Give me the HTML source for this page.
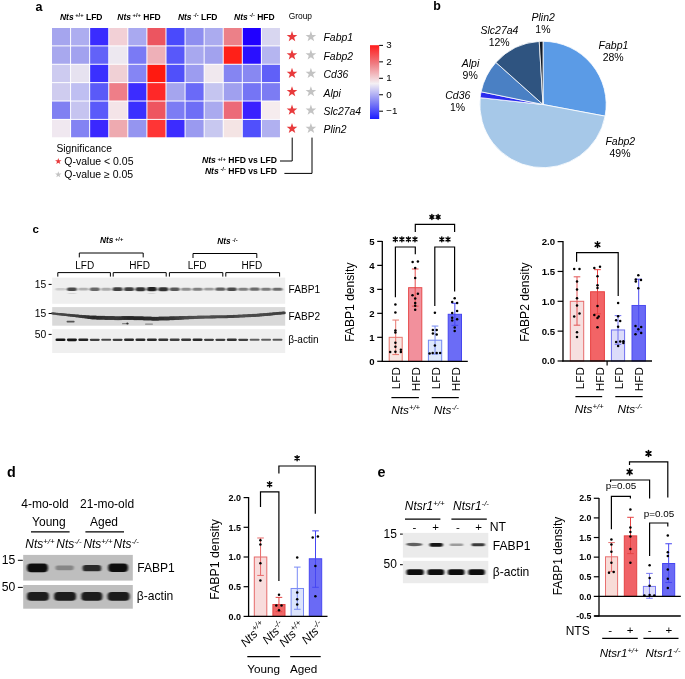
<!DOCTYPE html>
<html><head><meta charset="utf-8"><style>
html,body{margin:0;padding:0;background:#fff;width:685px;height:679px;overflow:hidden}
svg{display:block;font-family:"Liberation Sans", sans-serif;opacity:0.999}
text{font-family:"Liberation Sans", sans-serif}
</style></head><body>
<svg width="685" height="679" viewBox="0 0 685 679">
<rect x="0" y="0" width="685" height="679" fill="#fff"/>
<text x="35.50" y="10.60" font-size="12.5" font-weight="bold" font-style="normal" text-anchor="start" fill="#000" >a</text>
<rect x="52.00" y="28.00" width="18.08" height="17.38" fill="#a5a5ee" stroke="none" stroke-width="0" />
<rect x="71.08" y="28.00" width="18.08" height="17.38" fill="#adadf0" stroke="none" stroke-width="0" />
<rect x="90.16" y="28.00" width="18.08" height="17.38" fill="#3a2cff" stroke="none" stroke-width="0" />
<rect x="109.24" y="28.00" width="18.08" height="17.38" fill="#f2d0d6" stroke="none" stroke-width="0" />
<rect x="128.32" y="28.00" width="18.08" height="17.38" fill="#a9a9f0" stroke="none" stroke-width="0" />
<rect x="147.40" y="28.00" width="18.08" height="17.38" fill="#ec5560" stroke="none" stroke-width="0" />
<rect x="166.48" y="28.00" width="18.08" height="17.38" fill="#4a4afc" stroke="none" stroke-width="0" />
<rect x="185.56" y="28.00" width="18.08" height="17.38" fill="#8e8ef0" stroke="none" stroke-width="0" />
<rect x="204.64" y="28.00" width="18.08" height="17.38" fill="#ababef" stroke="none" stroke-width="0" />
<rect x="223.72" y="28.00" width="18.08" height="17.38" fill="#ec8088" stroke="none" stroke-width="0" />
<rect x="242.80" y="28.00" width="18.08" height="17.38" fill="#2000ff" stroke="none" stroke-width="0" />
<rect x="261.88" y="28.00" width="18.08" height="17.38" fill="#d8d6f0" stroke="none" stroke-width="0" />
<rect x="52.00" y="46.38" width="18.08" height="17.38" fill="#a8a8ee" stroke="none" stroke-width="0" />
<rect x="71.08" y="46.38" width="18.08" height="17.38" fill="#a2a2ef" stroke="none" stroke-width="0" />
<rect x="90.16" y="46.38" width="18.08" height="17.38" fill="#6262f8" stroke="none" stroke-width="0" />
<rect x="109.24" y="46.38" width="18.08" height="17.38" fill="#ede8f0" stroke="none" stroke-width="0" />
<rect x="128.32" y="46.38" width="18.08" height="17.38" fill="#7a7af5" stroke="none" stroke-width="0" />
<rect x="147.40" y="46.38" width="18.08" height="17.38" fill="#eeb0b8" stroke="none" stroke-width="0" />
<rect x="166.48" y="46.38" width="18.08" height="17.38" fill="#5858fa" stroke="none" stroke-width="0" />
<rect x="185.56" y="46.38" width="18.08" height="17.38" fill="#a8a8ef" stroke="none" stroke-width="0" />
<rect x="204.64" y="46.38" width="18.08" height="17.38" fill="#a2a2ee" stroke="none" stroke-width="0" />
<rect x="223.72" y="46.38" width="18.08" height="17.38" fill="#ff2018" stroke="none" stroke-width="0" />
<rect x="242.80" y="46.38" width="18.08" height="17.38" fill="#2a10ff" stroke="none" stroke-width="0" />
<rect x="261.88" y="46.38" width="18.08" height="17.38" fill="#b5b5f0" stroke="none" stroke-width="0" />
<rect x="52.00" y="64.76" width="18.08" height="17.38" fill="#cdcbf0" stroke="none" stroke-width="0" />
<rect x="71.08" y="64.76" width="18.08" height="17.38" fill="#e6e2f0" stroke="none" stroke-width="0" />
<rect x="90.16" y="64.76" width="18.08" height="17.38" fill="#3a30ff" stroke="none" stroke-width="0" />
<rect x="109.24" y="64.76" width="18.08" height="17.38" fill="#f0d0d5" stroke="none" stroke-width="0" />
<rect x="128.32" y="64.76" width="18.08" height="17.38" fill="#8585f4" stroke="none" stroke-width="0" />
<rect x="147.40" y="64.76" width="18.08" height="17.38" fill="#ff1a10" stroke="none" stroke-width="0" />
<rect x="166.48" y="64.76" width="18.08" height="17.38" fill="#5050fa" stroke="none" stroke-width="0" />
<rect x="185.56" y="64.76" width="18.08" height="17.38" fill="#9c9cf0" stroke="none" stroke-width="0" />
<rect x="204.64" y="64.76" width="18.08" height="17.38" fill="#f0e8ee" stroke="none" stroke-width="0" />
<rect x="223.72" y="64.76" width="18.08" height="17.38" fill="#8585f2" stroke="none" stroke-width="0" />
<rect x="242.80" y="64.76" width="18.08" height="17.38" fill="#8888f2" stroke="none" stroke-width="0" />
<rect x="261.88" y="64.76" width="18.08" height="17.38" fill="#6060f8" stroke="none" stroke-width="0" />
<rect x="52.00" y="83.14" width="18.08" height="17.38" fill="#cfccef" stroke="none" stroke-width="0" />
<rect x="71.08" y="83.14" width="18.08" height="17.38" fill="#bfbff2" stroke="none" stroke-width="0" />
<rect x="90.16" y="83.14" width="18.08" height="17.38" fill="#5a5af8" stroke="none" stroke-width="0" />
<rect x="109.24" y="83.14" width="18.08" height="17.38" fill="#ee7e88" stroke="none" stroke-width="0" />
<rect x="128.32" y="83.14" width="18.08" height="17.38" fill="#3c2cff" stroke="none" stroke-width="0" />
<rect x="147.40" y="83.14" width="18.08" height="17.38" fill="#ff2828" stroke="none" stroke-width="0" />
<rect x="166.48" y="83.14" width="18.08" height="17.38" fill="#a5a5ee" stroke="none" stroke-width="0" />
<rect x="185.56" y="83.14" width="18.08" height="17.38" fill="#6a6af8" stroke="none" stroke-width="0" />
<rect x="204.64" y="83.14" width="18.08" height="17.38" fill="#c5c5f0" stroke="none" stroke-width="0" />
<rect x="223.72" y="83.14" width="18.08" height="17.38" fill="#a0a0ef" stroke="none" stroke-width="0" />
<rect x="242.80" y="83.14" width="18.08" height="17.38" fill="#7575f5" stroke="none" stroke-width="0" />
<rect x="261.88" y="83.14" width="18.08" height="17.38" fill="#7c7cf3" stroke="none" stroke-width="0" />
<rect x="52.00" y="101.52" width="18.08" height="17.38" fill="#8080f2" stroke="none" stroke-width="0" />
<rect x="71.08" y="101.52" width="18.08" height="17.38" fill="#c6c4f0" stroke="none" stroke-width="0" />
<rect x="90.16" y="101.52" width="18.08" height="17.38" fill="#5a5afa" stroke="none" stroke-width="0" />
<rect x="109.24" y="101.52" width="18.08" height="17.38" fill="#f4e4e8" stroke="none" stroke-width="0" />
<rect x="128.32" y="101.52" width="18.08" height="17.38" fill="#3a30ff" stroke="none" stroke-width="0" />
<rect x="147.40" y="101.52" width="18.08" height="17.38" fill="#ee5560" stroke="none" stroke-width="0" />
<rect x="166.48" y="101.52" width="18.08" height="17.38" fill="#7c7cf4" stroke="none" stroke-width="0" />
<rect x="185.56" y="101.52" width="18.08" height="17.38" fill="#6e6ef6" stroke="none" stroke-width="0" />
<rect x="204.64" y="101.52" width="18.08" height="17.38" fill="#aaaaef" stroke="none" stroke-width="0" />
<rect x="223.72" y="101.52" width="18.08" height="17.38" fill="#ec6a78" stroke="none" stroke-width="0" />
<rect x="242.80" y="101.52" width="18.08" height="17.38" fill="#3a20ff" stroke="none" stroke-width="0" />
<rect x="261.88" y="101.52" width="18.08" height="17.38" fill="#f6ecee" stroke="none" stroke-width="0" />
<rect x="52.00" y="119.90" width="18.08" height="17.38" fill="#f0e8f0" stroke="none" stroke-width="0" />
<rect x="71.08" y="119.90" width="18.08" height="17.38" fill="#8383f3" stroke="none" stroke-width="0" />
<rect x="90.16" y="119.90" width="18.08" height="17.38" fill="#3a28ff" stroke="none" stroke-width="0" />
<rect x="109.24" y="119.90" width="18.08" height="17.38" fill="#eeaab0" stroke="none" stroke-width="0" />
<rect x="128.32" y="119.90" width="18.08" height="17.38" fill="#9595f0" stroke="none" stroke-width="0" />
<rect x="147.40" y="119.90" width="18.08" height="17.38" fill="#ff3535" stroke="none" stroke-width="0" />
<rect x="166.48" y="119.90" width="18.08" height="17.38" fill="#3c2cff" stroke="none" stroke-width="0" />
<rect x="185.56" y="119.90" width="18.08" height="17.38" fill="#9a9af0" stroke="none" stroke-width="0" />
<rect x="204.64" y="119.90" width="18.08" height="17.38" fill="#c8c8f0" stroke="none" stroke-width="0" />
<rect x="223.72" y="119.90" width="18.08" height="17.38" fill="#f4e4e4" stroke="none" stroke-width="0" />
<rect x="242.80" y="119.90" width="18.08" height="17.38" fill="#5050fc" stroke="none" stroke-width="0" />
<rect x="261.88" y="119.90" width="18.08" height="17.38" fill="#b0b0f0" stroke="none" stroke-width="0" />
<text x="81.20" y="19.7" font-size="8.5" font-weight="bold" text-anchor="middle"><tspan font-style="italic">Nts</tspan><tspan font-size="5.78" dy="-2.6"> +/+</tspan><tspan dy="2.6"> LFD</tspan></text>
<text x="139.00" y="19.7" font-size="8.5" font-weight="bold" text-anchor="middle"><tspan font-style="italic">Nts</tspan><tspan font-size="5.78" dy="-2.6"> +/+</tspan><tspan dy="2.6"> HFD</tspan></text>
<text x="197.70" y="19.7" font-size="8.5" font-weight="bold" text-anchor="middle"><tspan font-style="italic">Nts</tspan><tspan font-size="5.78" dy="-2.6"> -/-</tspan><tspan dy="2.6"> LFD</tspan></text>
<text x="254.40" y="19.7" font-size="8.5" font-weight="bold" text-anchor="middle"><tspan font-style="italic">Nts</tspan><tspan font-size="5.78" dy="-2.6"> -/-</tspan><tspan dy="2.6"> HFD</tspan></text>
<text x="288.70" y="19.30" font-size="8.4" font-weight="normal" font-style="normal" text-anchor="start" fill="#000" >Group</text>
<polygon points="292.00,31.09 293.32,34.88 297.33,34.96 294.13,37.38 295.29,41.22 292.00,38.93 288.71,41.22 289.87,37.38 286.67,34.96 290.68,34.88" fill="#e83a3c"/>
<polygon points="310.90,31.09 312.22,34.88 316.23,34.96 313.03,37.38 314.19,41.22 310.90,38.93 307.61,41.22 308.77,37.38 305.57,34.96 309.58,34.88" fill="#c3c3c3"/>
<text x="323.50" y="41.49" font-size="10.4" font-weight="normal" font-style="italic" text-anchor="start" fill="#000" >Fabp1</text>
<polygon points="292.00,49.47 293.32,53.26 297.33,53.34 294.13,55.76 295.29,59.60 292.00,57.31 288.71,59.60 289.87,55.76 286.67,53.34 290.68,53.26" fill="#e83a3c"/>
<polygon points="310.90,49.47 312.22,53.26 316.23,53.34 313.03,55.76 314.19,59.60 310.90,57.31 307.61,59.60 308.77,55.76 305.57,53.34 309.58,53.26" fill="#c3c3c3"/>
<text x="323.50" y="59.87" font-size="10.4" font-weight="normal" font-style="italic" text-anchor="start" fill="#000" >Fabp2</text>
<polygon points="292.00,67.85 293.32,71.64 297.33,71.72 294.13,74.14 295.29,77.98 292.00,75.69 288.71,77.98 289.87,74.14 286.67,71.72 290.68,71.64" fill="#e83a3c"/>
<polygon points="310.90,67.85 312.22,71.64 316.23,71.72 313.03,74.14 314.19,77.98 310.90,75.69 307.61,77.98 308.77,74.14 305.57,71.72 309.58,71.64" fill="#c3c3c3"/>
<text x="323.50" y="78.25" font-size="10.4" font-weight="normal" font-style="italic" text-anchor="start" fill="#000" >Cd36</text>
<polygon points="292.00,86.23 293.32,90.02 297.33,90.10 294.13,92.52 295.29,96.36 292.00,94.07 288.71,96.36 289.87,92.52 286.67,90.10 290.68,90.02" fill="#e83a3c"/>
<polygon points="310.90,86.23 312.22,90.02 316.23,90.10 313.03,92.52 314.19,96.36 310.90,94.07 307.61,96.36 308.77,92.52 305.57,90.10 309.58,90.02" fill="#c3c3c3"/>
<text x="323.50" y="96.63" font-size="10.4" font-weight="normal" font-style="italic" text-anchor="start" fill="#000" >Alpi</text>
<polygon points="292.00,104.61 293.32,108.40 297.33,108.48 294.13,110.90 295.29,114.74 292.00,112.45 288.71,114.74 289.87,110.90 286.67,108.48 290.68,108.40" fill="#e83a3c"/>
<polygon points="310.90,104.61 312.22,108.40 316.23,108.48 313.03,110.90 314.19,114.74 310.90,112.45 307.61,114.74 308.77,110.90 305.57,108.48 309.58,108.40" fill="#c3c3c3"/>
<text x="323.50" y="115.01" font-size="10.4" font-weight="normal" font-style="italic" text-anchor="start" fill="#000" >Slc27a4</text>
<polygon points="292.00,122.99 293.32,126.78 297.33,126.86 294.13,129.28 295.29,133.12 292.00,130.83 288.71,133.12 289.87,129.28 286.67,126.86 290.68,126.78" fill="#e83a3c"/>
<polygon points="310.90,122.99 312.22,126.78 316.23,126.86 313.03,129.28 314.19,133.12 310.90,130.83 307.61,133.12 308.77,129.28 305.57,126.86 309.58,126.78" fill="#c3c3c3"/>
<text x="323.50" y="133.39" font-size="10.4" font-weight="normal" font-style="italic" text-anchor="start" fill="#000" >Plin2</text>
<defs><linearGradient id="cb" x1="0" y1="0" x2="0" y2="1"><stop offset="0" stop-color="#ff1c1c"/><stop offset="0.25" stop-color="#ef7c82"/><stop offset="0.52" stop-color="#f4f0f4"/><stop offset="0.75" stop-color="#8c8cf4"/><stop offset="1" stop-color="#1c1cff"/></linearGradient></defs>
<rect x="370.00" y="45.20" width="9.20" height="73.80" fill="url(#cb)" stroke="none" stroke-width="0" />
<line x1="379.20" y1="45.40" x2="383.00" y2="45.40" stroke="#000" stroke-width="1.0"/>
<text x="386.20" y="48.40" font-size="9.8" font-weight="normal" font-style="normal" text-anchor="start" fill="#000" >3</text>
<line x1="379.20" y1="61.85" x2="383.00" y2="61.85" stroke="#000" stroke-width="1.0"/>
<text x="386.20" y="64.85" font-size="9.8" font-weight="normal" font-style="normal" text-anchor="start" fill="#000" >2</text>
<line x1="379.20" y1="78.30" x2="383.00" y2="78.30" stroke="#000" stroke-width="1.0"/>
<text x="386.20" y="81.30" font-size="9.8" font-weight="normal" font-style="normal" text-anchor="start" fill="#000" >1</text>
<line x1="379.20" y1="94.75" x2="383.00" y2="94.75" stroke="#000" stroke-width="1.0"/>
<text x="386.20" y="97.75" font-size="9.8" font-weight="normal" font-style="normal" text-anchor="start" fill="#000" >0</text>
<line x1="379.20" y1="111.20" x2="383.00" y2="111.20" stroke="#000" stroke-width="1.0"/>
<text x="386.20" y="114.20" font-size="9.8" font-weight="normal" font-style="normal" text-anchor="start" fill="#000" >−1</text>
<text x="56.40" y="151.60" font-size="10.3" font-weight="normal" font-style="normal" text-anchor="start" fill="#000" >Significance</text>
<polygon points="58.30,157.90 59.10,160.20 61.53,160.25 59.59,161.72 60.30,164.05 58.30,162.66 56.30,164.05 57.01,161.72 55.07,160.25 57.50,160.20" fill="#e83a3c"/>
<text x="64.30" y="164.80" font-size="10.5" font-weight="normal" font-style="normal" text-anchor="start" fill="#000" >Q-value &lt; 0.05</text>
<polygon points="58.30,171.20 59.10,173.50 61.53,173.55 59.59,175.02 60.30,177.35 58.30,175.96 56.30,177.35 57.01,175.02 55.07,173.55 57.50,173.50" fill="#c3c3c3"/>
<text x="64.30" y="178.10" font-size="10.5" font-weight="normal" font-style="normal" text-anchor="start" fill="#000" >Q-value ≥ 0.05</text>
<text x="277.00" y="163.2" font-size="8.6" font-weight="bold" text-anchor="end"><tspan font-style="italic">Nts</tspan><tspan font-size="5.85" dy="-2.4"> +/+</tspan><tspan dy="2.4"> HFD vs LFD</tspan></text>
<text x="277.00" y="173.8" font-size="8.6" font-weight="bold" text-anchor="end"><tspan font-style="italic">Nts</tspan><tspan font-size="5.85" dy="-2.4"> -/-</tspan><tspan dy="2.4"> HFD vs LFD</tspan></text>
<polyline points="280.00,161.00 292.20,161.00 292.20,137.60" fill="none" stroke="#000" stroke-width="1.0" stroke-linejoin="miter"/>
<polyline points="284.40,173.40 312.00,173.40 312.00,137.60" fill="none" stroke="#000" stroke-width="1.0" stroke-linejoin="miter"/>
<text x="433.30" y="10.40" font-size="12.4" font-weight="bold" font-style="normal" text-anchor="start" fill="#000" >b</text>
<path d="M543.00,104.50 L543.00,41.30 A63.2,63.2 0 0 1 605.12,116.13 Z" fill="#5b9be6" stroke="#fff" stroke-width="0.8" stroke-linejoin="round"/>
<path d="M543.00,104.50 L605.12,116.13 A63.2,63.2 0 0 1 480.17,97.67 Z" fill="#a6c8e8" stroke="#fff" stroke-width="0.8" stroke-linejoin="round"/>
<path d="M543.00,104.50 L480.17,97.67 A63.2,63.2 0 0 1 481.09,91.79 Z" fill="#2a2cee" stroke="#fff" stroke-width="0.8" stroke-linejoin="round"/>
<path d="M543.00,104.50 L481.09,91.79 A63.2,63.2 0 0 1 495.89,62.38 Z" fill="#4a80c4" stroke="#fff" stroke-width="0.8" stroke-linejoin="round"/>
<path d="M543.00,104.50 L495.89,62.38 A63.2,63.2 0 0 1 539.25,41.41 Z" fill="#2f5480" stroke="#fff" stroke-width="0.8" stroke-linejoin="round"/>
<path d="M543.00,104.50 L539.25,41.41 A63.2,63.2 0 0 1 543.00,41.30 Z" fill="#111a26" stroke="#fff" stroke-width="0.8" stroke-linejoin="round"/>
<text x="543.20" y="21.00" font-size="10.5" font-weight="normal" font-style="italic" text-anchor="middle" fill="#000" >Plin2</text>
<text x="542.90" y="32.90" font-size="10.5" font-weight="normal" font-style="normal" text-anchor="middle" fill="#000" >1%</text>
<text x="499.50" y="34.20" font-size="10.5" font-weight="normal" font-style="italic" text-anchor="middle" fill="#000" >Slc27a4</text>
<text x="499.20" y="46.10" font-size="10.5" font-weight="normal" font-style="normal" text-anchor="middle" fill="#000" >12%</text>
<text x="613.50" y="49.10" font-size="10.5" font-weight="normal" font-style="italic" text-anchor="middle" fill="#000" >Fabp1</text>
<text x="613.20" y="61.00" font-size="10.5" font-weight="normal" font-style="normal" text-anchor="middle" fill="#000" >28%</text>
<text x="470.50" y="66.80" font-size="10.5" font-weight="normal" font-style="italic" text-anchor="middle" fill="#000" >Alpi</text>
<text x="470.20" y="78.70" font-size="10.5" font-weight="normal" font-style="normal" text-anchor="middle" fill="#000" >9%</text>
<text x="457.80" y="99.20" font-size="10.5" font-weight="normal" font-style="italic" text-anchor="middle" fill="#000" >Cd36</text>
<text x="457.50" y="111.10" font-size="10.5" font-weight="normal" font-style="normal" text-anchor="middle" fill="#000" >1%</text>
<text x="620.30" y="145.10" font-size="10.5" font-weight="normal" font-style="italic" text-anchor="middle" fill="#000" >Fabp2</text>
<text x="620.00" y="157.00" font-size="10.5" font-weight="normal" font-style="normal" text-anchor="middle" fill="#000" >49%</text>
<text x="32.60" y="233.00" font-size="11.5" font-weight="bold" font-style="normal" text-anchor="start" fill="#000" >c</text>
<text x="111.70" y="243.4" font-size="8.3" font-weight="bold" text-anchor="middle"><tspan font-style="italic">Nts</tspan><tspan font-size="5.81" dy="-2.5"> +/+</tspan></text>
<text x="227.40" y="244.0" font-size="8.3" font-weight="bold" text-anchor="middle"><tspan font-style="italic">Nts</tspan><tspan font-size="5.81" dy="-2.5"> -/-</tspan></text>
<polyline points="79.30,257.40 79.30,253.00 143.20,253.00 143.20,257.40" fill="none" stroke="#000" stroke-width="1.0" stroke-linejoin="miter"/>
<polyline points="193.00,258.00 193.00,253.50 256.80,253.50 256.80,258.00" fill="none" stroke="#000" stroke-width="1.0" stroke-linejoin="miter"/>
<text x="84.70" y="269.30" font-size="10.0" font-weight="normal" font-style="normal" text-anchor="middle" fill="#000" >LFD</text>
<text x="139.60" y="269.30" font-size="10.0" font-weight="normal" font-style="normal" text-anchor="middle" fill="#000" >HFD</text>
<text x="197.10" y="269.30" font-size="10.0" font-weight="normal" font-style="normal" text-anchor="middle" fill="#000" >LFD</text>
<text x="251.90" y="269.30" font-size="10.0" font-weight="normal" font-style="normal" text-anchor="middle" fill="#000" >HFD</text>
<polyline points="57.80,276.60 57.80,272.60 110.40,272.60 110.40,276.60" fill="none" stroke="#000" stroke-width="1.0" stroke-linejoin="miter"/>
<polyline points="113.20,276.60 113.20,272.60 166.20,272.60 166.20,276.60" fill="none" stroke="#000" stroke-width="1.0" stroke-linejoin="miter"/>
<polyline points="169.40,276.60 169.40,272.60 222.80,272.60 222.80,276.60" fill="none" stroke="#000" stroke-width="1.0" stroke-linejoin="miter"/>
<polyline points="225.80,276.60 225.80,272.60 279.60,272.60 279.60,276.60" fill="none" stroke="#000" stroke-width="1.0" stroke-linejoin="miter"/>
<defs><filter id="bl1" x="-50%" y="-100%" width="200%" height="300%"><feGaussianBlur stdDeviation="1.1 0.9"/></filter><filter id="bl2" x="-50%" y="-100%" width="200%" height="300%"><feGaussianBlur stdDeviation="0.8 0.7"/></filter><filter id="bl3" x="-50%" y="-100%" width="200%" height="300%"><feGaussianBlur stdDeviation="0.6 0.6"/></filter></defs>
<rect x="52.20" y="277.60" width="233.00" height="26.20" fill="#efefef" stroke="none" stroke-width="0" />
<rect x="55.50" y="287.90" width="10.0" height="2.60" rx="1.30" fill="rgb(204,204,204)" filter="url(#bl2)"/>
<rect x="66.92" y="287.40" width="10.0" height="3.60" rx="1.80" fill="rgb(72,72,72)" filter="url(#bl2)"/>
<rect x="78.34" y="287.80" width="10.0" height="2.80" rx="1.40" fill="rgb(176,176,176)" filter="url(#bl2)"/>
<rect x="89.76" y="287.50" width="10.0" height="3.40" rx="1.70" fill="rgb(104,104,104)" filter="url(#bl2)"/>
<rect x="101.18" y="287.70" width="10.0" height="3.00" rx="1.50" fill="rgb(172,172,172)" filter="url(#bl2)"/>
<rect x="112.60" y="287.30" width="10.0" height="3.80" rx="1.90" fill="rgb(64,64,64)" filter="url(#bl2)"/>
<rect x="124.02" y="287.30" width="10.0" height="3.80" rx="1.90" fill="rgb(64,64,64)" filter="url(#bl2)"/>
<rect x="135.44" y="287.20" width="10.0" height="4.00" rx="2.00" fill="rgb(52,52,52)" filter="url(#bl2)"/>
<rect x="146.86" y="287.10" width="10.0" height="4.20" rx="2.10" fill="rgb(36,36,36)" filter="url(#bl2)"/>
<rect x="158.28" y="287.20" width="10.0" height="4.00" rx="2.00" fill="rgb(48,48,48)" filter="url(#bl2)"/>
<rect x="169.70" y="287.50" width="10.0" height="3.40" rx="1.70" fill="rgb(88,88,88)" filter="url(#bl2)"/>
<rect x="181.12" y="287.70" width="10.0" height="3.00" rx="1.50" fill="rgb(144,144,144)" filter="url(#bl2)"/>
<rect x="192.54" y="287.70" width="10.0" height="3.00" rx="1.50" fill="rgb(128,128,128)" filter="url(#bl2)"/>
<rect x="203.96" y="287.80" width="10.0" height="2.80" rx="1.40" fill="rgb(156,156,156)" filter="url(#bl2)"/>
<rect x="215.38" y="287.60" width="10.0" height="3.20" rx="1.60" fill="rgb(96,96,96)" filter="url(#bl2)"/>
<rect x="226.80" y="287.50" width="10.0" height="3.40" rx="1.70" fill="rgb(76,76,76)" filter="url(#bl2)"/>
<rect x="238.22" y="287.70" width="10.0" height="3.00" rx="1.50" fill="rgb(128,128,128)" filter="url(#bl2)"/>
<rect x="249.64" y="287.60" width="10.0" height="3.20" rx="1.60" fill="rgb(108,108,108)" filter="url(#bl2)"/>
<rect x="261.06" y="287.70" width="10.0" height="3.00" rx="1.50" fill="rgb(124,124,124)" filter="url(#bl2)"/>
<rect x="272.48" y="287.70" width="10.0" height="3.00" rx="1.50" fill="rgb(108,108,108)" filter="url(#bl2)"/>
<rect x="68" y="292.9" width="8" height="1.2" rx="0.6" fill="#d4d4d4" filter="url(#bl2)"/>
<rect x="148" y="292.9" width="7" height="1.2" rx="0.6" fill="#d4d4d4" filter="url(#bl2)"/>
<rect x="52.20" y="307.10" width="233.00" height="18.60" fill="#d9d9d9" stroke="none" stroke-width="0" />
<g filter="url(#bl3)">
<ellipse cx="52.60" cy="313.46" rx="1.6" ry="1.11" fill="rgb(72,72,72)"/>
<ellipse cx="53.80" cy="313.59" rx="1.6" ry="1.13" fill="rgb(72,72,72)"/>
<ellipse cx="55.00" cy="313.71" rx="1.6" ry="1.14" fill="rgb(72,72,72)"/>
<ellipse cx="56.20" cy="313.83" rx="1.6" ry="1.16" fill="rgb(72,72,72)"/>
<ellipse cx="57.40" cy="313.96" rx="1.6" ry="1.18" fill="rgb(72,72,72)"/>
<ellipse cx="58.60" cy="314.08" rx="1.6" ry="1.19" fill="rgb(72,72,72)"/>
<ellipse cx="59.80" cy="314.21" rx="1.6" ry="1.21" fill="rgb(72,72,72)"/>
<ellipse cx="61.00" cy="314.33" rx="1.6" ry="1.23" fill="rgb(71,71,71)"/>
<ellipse cx="62.20" cy="314.45" rx="1.6" ry="1.25" fill="rgb(70,70,70)"/>
<ellipse cx="63.40" cy="314.58" rx="1.6" ry="1.26" fill="rgb(69,69,69)"/>
<ellipse cx="64.60" cy="314.70" rx="1.6" ry="1.28" fill="rgb(69,69,69)"/>
<ellipse cx="65.80" cy="314.82" rx="1.6" ry="1.30" fill="rgb(68,68,68)"/>
<ellipse cx="67.00" cy="314.95" rx="1.6" ry="1.31" fill="rgb(67,67,67)"/>
<ellipse cx="68.20" cy="315.07" rx="1.6" ry="1.33" fill="rgb(66,66,66)"/>
<ellipse cx="69.40" cy="315.19" rx="1.6" ry="1.35" fill="rgb(65,65,65)"/>
<ellipse cx="70.60" cy="315.32" rx="1.6" ry="1.37" fill="rgb(64,64,64)"/>
<ellipse cx="71.80" cy="315.44" rx="1.6" ry="1.38" fill="rgb(64,64,64)"/>
<ellipse cx="73.00" cy="315.56" rx="1.6" ry="1.40" fill="rgb(63,63,63)"/>
<ellipse cx="74.20" cy="315.68" rx="1.6" ry="1.42" fill="rgb(62,62,62)"/>
<ellipse cx="75.40" cy="315.81" rx="1.6" ry="1.43" fill="rgb(61,61,61)"/>
<ellipse cx="76.60" cy="315.93" rx="1.6" ry="1.45" fill="rgb(60,60,60)"/>
<ellipse cx="77.80" cy="316.05" rx="1.6" ry="1.47" fill="rgb(59,59,59)"/>
<ellipse cx="79.00" cy="316.17" rx="1.6" ry="1.49" fill="rgb(59,59,59)"/>
<ellipse cx="80.20" cy="316.30" rx="1.6" ry="1.51" fill="rgb(58,58,58)"/>
<ellipse cx="81.40" cy="316.42" rx="1.6" ry="1.55" fill="rgb(57,57,57)"/>
<ellipse cx="82.60" cy="316.54" rx="1.6" ry="1.59" fill="rgb(56,56,56)"/>
<ellipse cx="83.80" cy="316.66" rx="1.6" ry="1.63" fill="rgb(55,55,55)"/>
<ellipse cx="85.00" cy="316.79" rx="1.6" ry="1.67" fill="rgb(53,53,53)"/>
<ellipse cx="86.20" cy="316.91" rx="1.6" ry="1.71" fill="rgb(51,51,51)"/>
<ellipse cx="87.40" cy="317.03" rx="1.6" ry="1.75" fill="rgb(50,50,50)"/>
<ellipse cx="88.60" cy="317.15" rx="1.6" ry="1.79" fill="rgb(48,48,48)"/>
<ellipse cx="89.80" cy="317.28" rx="1.6" ry="1.83" fill="rgb(46,46,46)"/>
<ellipse cx="91.00" cy="317.40" rx="1.6" ry="1.87" fill="rgb(45,45,45)"/>
<ellipse cx="92.20" cy="317.51" rx="1.6" ry="1.91" fill="rgb(43,43,43)"/>
<ellipse cx="93.40" cy="317.54" rx="1.6" ry="1.95" fill="rgb(41,41,41)"/>
<ellipse cx="94.60" cy="317.57" rx="1.6" ry="1.99" fill="rgb(40,40,40)"/>
<ellipse cx="95.80" cy="317.61" rx="1.6" ry="2.00" fill="rgb(41,41,41)"/>
<ellipse cx="97.00" cy="317.64" rx="1.6" ry="2.00" fill="rgb(42,42,42)"/>
<ellipse cx="98.20" cy="317.68" rx="1.6" ry="2.00" fill="rgb(43,43,43)"/>
<ellipse cx="99.40" cy="317.71" rx="1.6" ry="2.00" fill="rgb(44,44,44)"/>
<ellipse cx="100.60" cy="317.75" rx="1.6" ry="2.00" fill="rgb(46,46,46)"/>
<ellipse cx="101.80" cy="317.78" rx="1.6" ry="2.00" fill="rgb(47,47,47)"/>
<ellipse cx="103.00" cy="317.81" rx="1.6" ry="2.00" fill="rgb(48,48,48)"/>
<ellipse cx="104.20" cy="317.85" rx="1.6" ry="2.00" fill="rgb(49,49,49)"/>
<ellipse cx="105.40" cy="317.88" rx="1.6" ry="2.00" fill="rgb(51,51,51)"/>
<ellipse cx="106.60" cy="317.92" rx="1.6" ry="2.00" fill="rgb(52,52,52)"/>
<ellipse cx="107.80" cy="317.95" rx="1.6" ry="2.00" fill="rgb(52,52,52)"/>
<ellipse cx="109.00" cy="317.99" rx="1.6" ry="2.00" fill="rgb(52,52,52)"/>
<ellipse cx="110.20" cy="318.02" rx="1.6" ry="2.00" fill="rgb(53,53,53)"/>
<ellipse cx="111.40" cy="318.05" rx="1.6" ry="2.00" fill="rgb(53,53,53)"/>
<ellipse cx="112.60" cy="318.09" rx="1.6" ry="2.00" fill="rgb(54,54,54)"/>
<ellipse cx="113.80" cy="318.12" rx="1.6" ry="2.00" fill="rgb(54,54,54)"/>
<ellipse cx="115.00" cy="318.16" rx="1.6" ry="2.00" fill="rgb(55,55,55)"/>
<ellipse cx="116.20" cy="318.19" rx="1.6" ry="2.00" fill="rgb(55,55,55)"/>
<ellipse cx="117.40" cy="318.19" rx="1.6" ry="2.00" fill="rgb(55,55,55)"/>
<ellipse cx="118.60" cy="318.17" rx="1.6" ry="2.00" fill="rgb(54,54,54)"/>
<ellipse cx="119.80" cy="318.15" rx="1.6" ry="2.00" fill="rgb(52,52,52)"/>
<ellipse cx="121.00" cy="318.13" rx="1.6" ry="2.00" fill="rgb(51,51,51)"/>
<ellipse cx="122.20" cy="318.11" rx="1.6" ry="2.00" fill="rgb(49,49,49)"/>
<ellipse cx="123.40" cy="318.09" rx="1.6" ry="2.00" fill="rgb(47,47,47)"/>
<ellipse cx="124.60" cy="318.07" rx="1.6" ry="2.00" fill="rgb(46,46,46)"/>
<ellipse cx="125.80" cy="318.05" rx="1.6" ry="2.00" fill="rgb(44,44,44)"/>
<ellipse cx="127.00" cy="318.03" rx="1.6" ry="2.00" fill="rgb(42,42,42)"/>
<ellipse cx="128.20" cy="318.01" rx="1.6" ry="2.00" fill="rgb(41,41,41)"/>
<ellipse cx="129.40" cy="318.02" rx="1.6" ry="2.00" fill="rgb(40,40,40)"/>
<ellipse cx="130.60" cy="318.05" rx="1.6" ry="2.00" fill="rgb(40,40,40)"/>
<ellipse cx="131.80" cy="318.08" rx="1.6" ry="2.00" fill="rgb(40,40,40)"/>
<ellipse cx="133.00" cy="318.11" rx="1.6" ry="2.00" fill="rgb(40,40,40)"/>
<ellipse cx="134.20" cy="318.14" rx="1.6" ry="2.00" fill="rgb(40,40,40)"/>
<ellipse cx="135.40" cy="318.18" rx="1.6" ry="2.00" fill="rgb(40,40,40)"/>
<ellipse cx="136.60" cy="318.21" rx="1.6" ry="2.00" fill="rgb(40,40,40)"/>
<ellipse cx="137.80" cy="318.24" rx="1.6" ry="2.00" fill="rgb(40,40,40)"/>
<ellipse cx="139.00" cy="318.27" rx="1.6" ry="2.00" fill="rgb(40,40,40)"/>
<ellipse cx="140.20" cy="318.30" rx="1.6" ry="2.00" fill="rgb(40,40,40)"/>
<ellipse cx="141.40" cy="318.34" rx="1.6" ry="2.00" fill="rgb(40,40,40)"/>
<ellipse cx="142.60" cy="318.37" rx="1.6" ry="2.00" fill="rgb(40,40,40)"/>
<ellipse cx="143.80" cy="318.40" rx="1.6" ry="2.00" fill="rgb(41,41,41)"/>
<ellipse cx="145.00" cy="318.43" rx="1.6" ry="2.00" fill="rgb(41,41,41)"/>
<ellipse cx="146.20" cy="318.46" rx="1.6" ry="2.00" fill="rgb(42,42,42)"/>
<ellipse cx="147.40" cy="318.50" rx="1.6" ry="2.00" fill="rgb(42,42,42)"/>
<ellipse cx="148.60" cy="318.53" rx="1.6" ry="2.00" fill="rgb(42,42,42)"/>
<ellipse cx="149.80" cy="318.56" rx="1.6" ry="2.00" fill="rgb(43,43,43)"/>
<ellipse cx="151.00" cy="318.59" rx="1.6" ry="2.00" fill="rgb(43,43,43)"/>
<ellipse cx="152.20" cy="318.63" rx="1.6" ry="2.00" fill="rgb(44,44,44)"/>
<ellipse cx="153.40" cy="318.66" rx="1.6" ry="2.00" fill="rgb(44,44,44)"/>
<ellipse cx="154.60" cy="318.69" rx="1.6" ry="2.00" fill="rgb(44,44,44)"/>
<ellipse cx="155.80" cy="318.68" rx="1.6" ry="2.00" fill="rgb(45,45,45)"/>
<ellipse cx="157.00" cy="318.66" rx="1.6" ry="2.00" fill="rgb(45,45,45)"/>
<ellipse cx="158.20" cy="318.63" rx="1.6" ry="2.00" fill="rgb(46,46,46)"/>
<ellipse cx="159.40" cy="318.61" rx="1.6" ry="2.00" fill="rgb(46,46,46)"/>
<ellipse cx="160.60" cy="318.58" rx="1.6" ry="2.00" fill="rgb(47,47,47)"/>
<ellipse cx="161.80" cy="318.55" rx="1.6" ry="2.00" fill="rgb(47,47,47)"/>
<ellipse cx="163.00" cy="318.53" rx="1.6" ry="2.00" fill="rgb(47,47,47)"/>
<ellipse cx="164.20" cy="318.50" rx="1.6" ry="2.00" fill="rgb(48,48,48)"/>
<ellipse cx="165.40" cy="318.48" rx="1.6" ry="2.00" fill="rgb(49,49,49)"/>
<ellipse cx="166.60" cy="318.45" rx="1.6" ry="2.00" fill="rgb(50,50,50)"/>
<ellipse cx="167.80" cy="318.43" rx="1.6" ry="2.00" fill="rgb(51,51,51)"/>
<ellipse cx="169.00" cy="318.40" rx="1.6" ry="2.00" fill="rgb(52,52,52)"/>
<ellipse cx="170.20" cy="318.35" rx="1.6" ry="2.00" fill="rgb(52,52,52)"/>
<ellipse cx="171.40" cy="318.30" rx="1.6" ry="1.98" fill="rgb(53,53,53)"/>
<ellipse cx="172.60" cy="318.26" rx="1.6" ry="1.97" fill="rgb(54,54,54)"/>
<ellipse cx="173.80" cy="318.21" rx="1.6" ry="1.95" fill="rgb(55,55,55)"/>
<ellipse cx="175.00" cy="318.16" rx="1.6" ry="1.93" fill="rgb(56,56,56)"/>
<ellipse cx="176.20" cy="318.11" rx="1.6" ry="1.92" fill="rgb(58,58,58)"/>
<ellipse cx="177.40" cy="318.06" rx="1.6" ry="1.90" fill="rgb(59,59,59)"/>
<ellipse cx="178.60" cy="318.02" rx="1.6" ry="1.89" fill="rgb(61,61,61)"/>
<ellipse cx="179.80" cy="317.97" rx="1.6" ry="1.87" fill="rgb(63,63,63)"/>
<ellipse cx="181.00" cy="317.92" rx="1.6" ry="1.85" fill="rgb(64,64,64)"/>
<ellipse cx="182.20" cy="317.87" rx="1.6" ry="1.84" fill="rgb(66,66,66)"/>
<ellipse cx="183.40" cy="317.82" rx="1.6" ry="1.82" fill="rgb(68,68,68)"/>
<ellipse cx="184.60" cy="317.78" rx="1.6" ry="1.81" fill="rgb(69,69,69)"/>
<ellipse cx="185.80" cy="317.73" rx="1.6" ry="1.79" fill="rgb(71,71,71)"/>
<ellipse cx="187.00" cy="317.68" rx="1.6" ry="1.77" fill="rgb(72,72,72)"/>
<ellipse cx="188.20" cy="317.63" rx="1.6" ry="1.76" fill="rgb(73,73,73)"/>
<ellipse cx="189.40" cy="317.58" rx="1.6" ry="1.74" fill="rgb(74,74,74)"/>
<ellipse cx="190.60" cy="317.54" rx="1.6" ry="1.73" fill="rgb(75,75,75)"/>
<ellipse cx="191.80" cy="317.49" rx="1.6" ry="1.71" fill="rgb(75,75,75)"/>
<ellipse cx="193.00" cy="317.44" rx="1.6" ry="1.69" fill="rgb(76,76,76)"/>
<ellipse cx="194.20" cy="317.39" rx="1.6" ry="1.68" fill="rgb(77,77,77)"/>
<ellipse cx="195.40" cy="317.34" rx="1.6" ry="1.66" fill="rgb(78,78,78)"/>
<ellipse cx="196.60" cy="317.30" rx="1.6" ry="1.65" fill="rgb(79,79,79)"/>
<ellipse cx="197.80" cy="317.25" rx="1.6" ry="1.63" fill="rgb(80,80,80)"/>
<ellipse cx="199.00" cy="317.20" rx="1.6" ry="1.61" fill="rgb(80,80,80)"/>
<ellipse cx="200.20" cy="317.15" rx="1.6" ry="1.60" fill="rgb(80,80,80)"/>
<ellipse cx="201.40" cy="317.10" rx="1.6" ry="1.60" fill="rgb(80,80,80)"/>
<ellipse cx="202.60" cy="317.08" rx="1.6" ry="1.59" fill="rgb(80,80,80)"/>
<ellipse cx="203.80" cy="317.06" rx="1.6" ry="1.59" fill="rgb(80,80,80)"/>
<ellipse cx="205.00" cy="317.04" rx="1.6" ry="1.58" fill="rgb(80,80,80)"/>
<ellipse cx="206.20" cy="317.01" rx="1.6" ry="1.58" fill="rgb(80,80,80)"/>
<ellipse cx="207.40" cy="316.99" rx="1.6" ry="1.58" fill="rgb(80,80,80)"/>
<ellipse cx="208.60" cy="316.97" rx="1.6" ry="1.57" fill="rgb(80,80,80)"/>
<ellipse cx="209.80" cy="316.95" rx="1.6" ry="1.57" fill="rgb(79,79,79)"/>
<ellipse cx="211.00" cy="316.93" rx="1.6" ry="1.56" fill="rgb(78,78,78)"/>
<ellipse cx="212.20" cy="316.90" rx="1.6" ry="1.56" fill="rgb(77,77,77)"/>
<ellipse cx="213.40" cy="316.88" rx="1.6" ry="1.56" fill="rgb(76,76,76)"/>
<ellipse cx="214.60" cy="316.86" rx="1.6" ry="1.55" fill="rgb(76,76,76)"/>
<ellipse cx="215.80" cy="316.84" rx="1.6" ry="1.55" fill="rgb(75,75,75)"/>
<ellipse cx="217.00" cy="316.82" rx="1.6" ry="1.54" fill="rgb(74,74,74)"/>
<ellipse cx="218.20" cy="316.80" rx="1.6" ry="1.54" fill="rgb(73,73,73)"/>
<ellipse cx="219.40" cy="316.77" rx="1.6" ry="1.54" fill="rgb(72,72,72)"/>
<ellipse cx="220.60" cy="316.75" rx="1.6" ry="1.53" fill="rgb(71,71,71)"/>
<ellipse cx="221.80" cy="316.73" rx="1.6" ry="1.53" fill="rgb(71,71,71)"/>
<ellipse cx="223.00" cy="316.71" rx="1.6" ry="1.52" fill="rgb(70,70,70)"/>
<ellipse cx="224.20" cy="316.69" rx="1.6" ry="1.52" fill="rgb(69,69,69)"/>
<ellipse cx="225.40" cy="316.66" rx="1.6" ry="1.52" fill="rgb(68,68,68)"/>
<ellipse cx="226.60" cy="316.64" rx="1.6" ry="1.51" fill="rgb(67,67,67)"/>
<ellipse cx="227.80" cy="316.62" rx="1.6" ry="1.51" fill="rgb(66,66,66)"/>
<ellipse cx="229.00" cy="316.60" rx="1.6" ry="1.50" fill="rgb(65,65,65)"/>
<ellipse cx="230.20" cy="316.54" rx="1.6" ry="1.50" fill="rgb(65,65,65)"/>
<ellipse cx="231.40" cy="316.48" rx="1.6" ry="1.50" fill="rgb(64,64,64)"/>
<ellipse cx="232.60" cy="316.42" rx="1.6" ry="1.51" fill="rgb(65,65,65)"/>
<ellipse cx="233.80" cy="316.37" rx="1.6" ry="1.51" fill="rgb(66,66,66)"/>
<ellipse cx="235.00" cy="316.31" rx="1.6" ry="1.52" fill="rgb(68,68,68)"/>
<ellipse cx="236.20" cy="316.25" rx="1.6" ry="1.52" fill="rgb(70,70,70)"/>
<ellipse cx="237.40" cy="316.20" rx="1.6" ry="1.52" fill="rgb(71,71,71)"/>
<ellipse cx="238.60" cy="316.14" rx="1.6" ry="1.53" fill="rgb(73,73,73)"/>
<ellipse cx="239.80" cy="316.08" rx="1.6" ry="1.53" fill="rgb(75,75,75)"/>
<ellipse cx="241.00" cy="316.02" rx="1.6" ry="1.54" fill="rgb(76,76,76)"/>
<ellipse cx="242.20" cy="315.97" rx="1.6" ry="1.54" fill="rgb(78,78,78)"/>
<ellipse cx="243.40" cy="315.91" rx="1.6" ry="1.54" fill="rgb(79,79,79)"/>
<ellipse cx="244.60" cy="315.85" rx="1.6" ry="1.55" fill="rgb(79,79,79)"/>
<ellipse cx="245.80" cy="315.80" rx="1.6" ry="1.55" fill="rgb(78,78,78)"/>
<ellipse cx="247.00" cy="315.74" rx="1.6" ry="1.56" fill="rgb(77,77,77)"/>
<ellipse cx="248.20" cy="315.68" rx="1.6" ry="1.56" fill="rgb(76,76,76)"/>
<ellipse cx="249.40" cy="315.62" rx="1.6" ry="1.56" fill="rgb(75,75,75)"/>
<ellipse cx="250.60" cy="315.57" rx="1.6" ry="1.57" fill="rgb(74,74,74)"/>
<ellipse cx="251.80" cy="315.51" rx="1.6" ry="1.57" fill="rgb(73,73,73)"/>
<ellipse cx="253.00" cy="315.45" rx="1.6" ry="1.58" fill="rgb(73,73,73)"/>
<ellipse cx="254.20" cy="315.40" rx="1.6" ry="1.58" fill="rgb(72,72,72)"/>
<ellipse cx="255.40" cy="315.34" rx="1.6" ry="1.58" fill="rgb(72,72,72)"/>
<ellipse cx="256.60" cy="315.27" rx="1.6" ry="1.59" fill="rgb(72,72,72)"/>
<ellipse cx="257.80" cy="315.16" rx="1.6" ry="1.59" fill="rgb(72,72,72)"/>
<ellipse cx="259.00" cy="315.06" rx="1.6" ry="1.60" fill="rgb(72,72,72)"/>
<ellipse cx="260.20" cy="314.96" rx="1.6" ry="1.60" fill="rgb(72,72,72)"/>
<ellipse cx="261.40" cy="314.85" rx="1.6" ry="1.59" fill="rgb(72,72,72)"/>
<ellipse cx="262.60" cy="314.75" rx="1.6" ry="1.58" fill="rgb(72,72,72)"/>
<ellipse cx="263.80" cy="314.65" rx="1.6" ry="1.57" fill="rgb(72,72,72)"/>
<ellipse cx="265.00" cy="314.54" rx="1.6" ry="1.56" fill="rgb(72,72,72)"/>
<ellipse cx="266.20" cy="314.44" rx="1.6" ry="1.55" fill="rgb(71,71,71)"/>
<ellipse cx="267.40" cy="314.34" rx="1.6" ry="1.54" fill="rgb(71,71,71)"/>
<ellipse cx="268.60" cy="314.23" rx="1.6" ry="1.53" fill="rgb(70,70,70)"/>
<ellipse cx="269.80" cy="314.13" rx="1.6" ry="1.52" fill="rgb(69,69,69)"/>
<ellipse cx="271.00" cy="314.03" rx="1.6" ry="1.51" fill="rgb(68,68,68)"/>
<ellipse cx="272.20" cy="313.93" rx="1.6" ry="1.50" fill="rgb(67,67,67)"/>
<ellipse cx="273.40" cy="313.82" rx="1.6" ry="1.49" fill="rgb(66,66,66)"/>
<ellipse cx="274.60" cy="313.72" rx="1.6" ry="1.48" fill="rgb(66,66,66)"/>
<ellipse cx="275.80" cy="313.62" rx="1.6" ry="1.47" fill="rgb(65,65,65)"/>
<ellipse cx="277.00" cy="313.51" rx="1.6" ry="1.46" fill="rgb(64,64,64)"/>
<ellipse cx="278.20" cy="313.41" rx="1.6" ry="1.45" fill="rgb(64,64,64)"/>
<ellipse cx="279.40" cy="313.31" rx="1.6" ry="1.44" fill="rgb(64,64,64)"/>
<ellipse cx="280.60" cy="313.20" rx="1.6" ry="1.44" fill="rgb(64,64,64)"/>
<ellipse cx="281.80" cy="313.10" rx="1.6" ry="1.43" fill="rgb(64,64,64)"/>
<ellipse cx="283.00" cy="313.01" rx="1.6" ry="1.42" fill="rgb(64,64,64)"/>
<ellipse cx="284.20" cy="312.93" rx="1.6" ry="1.41" fill="rgb(64,64,64)"/>
</g>
<rect x="66.6" y="320.8" width="8" height="1.6" rx="0.7" fill="#555" filter="url(#bl3)"/>
<rect x="122" y="322.9" width="7" height="1.4" rx="0.6" fill="#888" filter="url(#bl3)"/>
<circle cx="127.3" cy="323.6" r="1.0" fill="#333" filter="url(#bl3)"/>
<rect x="145" y="323.4" width="8" height="1.3" rx="0.6" fill="#8a8a8a" filter="url(#bl3)"/>
<rect x="52.20" y="329.20" width="233.00" height="23.80" fill="#efefef" stroke="none" stroke-width="0" />
<rect x="55.50" y="338.50" width="10.0" height="2.60" rx="1.30" fill="rgb(24,24,24)" filter="url(#bl3)"/>
<rect x="66.92" y="338.40" width="10.0" height="2.80" rx="1.40" fill="rgb(20,20,20)" filter="url(#bl3)"/>
<rect x="78.34" y="338.50" width="10.0" height="2.60" rx="1.30" fill="rgb(32,32,32)" filter="url(#bl3)"/>
<rect x="89.76" y="338.70" width="10.0" height="2.20" rx="1.10" fill="rgb(64,64,64)" filter="url(#bl3)"/>
<rect x="101.18" y="338.80" width="10.0" height="2.00" rx="1.00" fill="rgb(72,72,72)" filter="url(#bl3)"/>
<rect x="112.60" y="338.70" width="10.0" height="2.20" rx="1.10" fill="rgb(64,64,64)" filter="url(#bl3)"/>
<rect x="124.02" y="338.50" width="10.0" height="2.60" rx="1.30" fill="rgb(44,44,44)" filter="url(#bl3)"/>
<rect x="135.44" y="338.50" width="10.0" height="2.60" rx="1.30" fill="rgb(44,44,44)" filter="url(#bl3)"/>
<rect x="146.86" y="338.50" width="10.0" height="2.60" rx="1.30" fill="rgb(44,44,44)" filter="url(#bl3)"/>
<rect x="158.28" y="338.60" width="10.0" height="2.40" rx="1.20" fill="rgb(52,52,52)" filter="url(#bl3)"/>
<rect x="169.70" y="338.60" width="10.0" height="2.40" rx="1.20" fill="rgb(64,64,64)" filter="url(#bl3)"/>
<rect x="181.12" y="338.60" width="10.0" height="2.40" rx="1.20" fill="rgb(56,56,56)" filter="url(#bl3)"/>
<rect x="192.54" y="338.50" width="10.0" height="2.60" rx="1.30" fill="rgb(44,44,44)" filter="url(#bl3)"/>
<rect x="203.96" y="338.70" width="10.0" height="2.20" rx="1.10" fill="rgb(64,64,64)" filter="url(#bl3)"/>
<rect x="215.38" y="338.70" width="10.0" height="2.20" rx="1.10" fill="rgb(64,64,64)" filter="url(#bl3)"/>
<rect x="226.80" y="338.50" width="10.0" height="2.60" rx="1.30" fill="rgb(48,48,48)" filter="url(#bl3)"/>
<rect x="238.22" y="338.70" width="10.0" height="2.20" rx="1.10" fill="rgb(64,64,64)" filter="url(#bl3)"/>
<rect x="249.64" y="338.80" width="10.0" height="2.00" rx="1.00" fill="rgb(96,96,96)" filter="url(#bl3)"/>
<rect x="261.06" y="338.80" width="10.0" height="2.00" rx="1.00" fill="rgb(96,96,96)" filter="url(#bl3)"/>
<rect x="272.48" y="338.80" width="10.0" height="2.00" rx="1.00" fill="rgb(88,88,88)" filter="url(#bl3)"/>
<text x="46.30" y="287.59" font-size="10.3" font-weight="normal" font-style="normal" text-anchor="end" fill="#000" >15</text>
<line x1="48.60" y1="284.40" x2="51.60" y2="284.40" stroke="#000" stroke-width="1.0"/>
<text x="46.30" y="316.69" font-size="10.3" font-weight="normal" font-style="normal" text-anchor="end" fill="#000" >15</text>
<line x1="48.60" y1="313.50" x2="51.60" y2="313.50" stroke="#000" stroke-width="1.0"/>
<text x="46.30" y="337.59" font-size="10.3" font-weight="normal" font-style="normal" text-anchor="end" fill="#000" >50</text>
<line x1="48.60" y1="334.40" x2="51.60" y2="334.40" stroke="#000" stroke-width="1.0"/>
<text x="288.60" y="292.60" font-size="10.1" font-weight="normal" font-style="normal" text-anchor="start" fill="#000" >FABP1</text>
<text x="288.60" y="319.70" font-size="10.1" font-weight="normal" font-style="normal" text-anchor="start" fill="#000" >FABP2</text>
<text x="288.20" y="343.40" font-size="10.1" font-weight="normal" font-style="normal" text-anchor="start" fill="#000" >β-actin</text>
<text x="0.00" y="0.00" font-size="1" font-weight="normal" font-style="normal" text-anchor="start" fill="#000" ></text>
<rect x="389.20" y="337.32" width="13.00" height="23.98" fill="#f8e6e2" stroke="#e8776e" stroke-width="1.0" />
<line x1="395.70" y1="320.05" x2="395.70" y2="354.59" stroke="#e8776e" stroke-width="1.0"/>
<line x1="392.40" y1="320.05" x2="399.00" y2="320.05" stroke="#e8776e" stroke-width="1.0"/>
<line x1="392.40" y1="354.59" x2="399.00" y2="354.59" stroke="#e8776e" stroke-width="1.0"/>
<circle cx="395.40" cy="304.40" r="1.25" fill="#000"/>
<circle cx="395.40" cy="312.40" r="1.25" fill="#000"/>
<circle cx="395.40" cy="330.40" r="1.25" fill="#000"/>
<circle cx="395.40" cy="332.60" r="1.25" fill="#000"/>
<circle cx="395.40" cy="342.70" r="1.25" fill="#000"/>
<circle cx="395.40" cy="346.70" r="1.25" fill="#000"/>
<circle cx="390.20" cy="352.00" r="1.25" fill="#000"/>
<circle cx="395.40" cy="351.70" r="1.25" fill="#000"/>
<circle cx="400.90" cy="349.80" r="1.25" fill="#000"/>
<circle cx="400.90" cy="351.90" r="1.25" fill="#000"/>
<rect x="408.60" y="287.68" width="13.20" height="73.62" fill="#f2909c" stroke="#e64c4c" stroke-width="1.0" />
<line x1="415.20" y1="268.98" x2="415.20" y2="306.15" stroke="#e64c4c" stroke-width="1.0"/>
<line x1="411.90" y1="268.98" x2="418.50" y2="268.98" stroke="#e64c4c" stroke-width="1.0"/>
<line x1="411.90" y1="306.15" x2="418.50" y2="306.15" stroke="#e64c4c" stroke-width="1.0"/>
<circle cx="412.60" cy="261.90" r="1.25" fill="#000"/>
<circle cx="417.90" cy="261.40" r="1.25" fill="#000"/>
<circle cx="415.20" cy="268.10" r="1.25" fill="#000"/>
<circle cx="415.20" cy="278.00" r="1.25" fill="#000"/>
<circle cx="412.50" cy="295.20" r="1.25" fill="#000"/>
<circle cx="417.90" cy="293.80" r="1.25" fill="#000"/>
<circle cx="415.20" cy="298.40" r="1.25" fill="#000"/>
<circle cx="415.20" cy="302.90" r="1.25" fill="#000"/>
<circle cx="415.20" cy="305.70" r="1.25" fill="#000"/>
<circle cx="415.20" cy="309.70" r="1.25" fill="#000"/>
<rect x="428.40" y="340.20" width="13.30" height="21.10" fill="#dde8fc" stroke="#7288f2" stroke-width="1.0" />
<line x1="435.05" y1="326.05" x2="435.05" y2="354.11" stroke="#7288f2" stroke-width="1.0"/>
<line x1="431.75" y1="326.05" x2="438.35" y2="326.05" stroke="#7288f2" stroke-width="1.0"/>
<line x1="431.75" y1="354.11" x2="438.35" y2="354.11" stroke="#7288f2" stroke-width="1.0"/>
<circle cx="434.90" cy="312.80" r="1.25" fill="#000"/>
<circle cx="432.90" cy="330.10" r="1.25" fill="#000"/>
<circle cx="436.70" cy="330.10" r="1.25" fill="#000"/>
<circle cx="432.90" cy="333.40" r="1.25" fill="#000"/>
<circle cx="436.70" cy="334.40" r="1.25" fill="#000"/>
<circle cx="434.90" cy="345.50" r="1.25" fill="#000"/>
<circle cx="429.60" cy="353.50" r="1.25" fill="#000"/>
<circle cx="432.70" cy="352.90" r="1.25" fill="#000"/>
<circle cx="436.70" cy="352.90" r="1.25" fill="#000"/>
<circle cx="440.10" cy="352.90" r="1.25" fill="#000"/>
<rect x="448.20" y="314.30" width="13.30" height="47.00" fill="#6b6cf6" stroke="#4646f0" stroke-width="1.0" />
<line x1="454.85" y1="303.27" x2="454.85" y2="325.33" stroke="#4646f0" stroke-width="1.0"/>
<line x1="451.55" y1="303.27" x2="458.15" y2="303.27" stroke="#4646f0" stroke-width="1.0"/>
<line x1="451.55" y1="325.33" x2="458.15" y2="325.33" stroke="#4646f0" stroke-width="1.0"/>
<circle cx="454.70" cy="298.20" r="1.25" fill="#000"/>
<circle cx="452.20" cy="301.90" r="1.25" fill="#000"/>
<circle cx="457.10" cy="302.90" r="1.25" fill="#000"/>
<circle cx="457.10" cy="310.90" r="1.25" fill="#000"/>
<circle cx="452.20" cy="313.10" r="1.25" fill="#000"/>
<circle cx="452.20" cy="317.70" r="1.25" fill="#000"/>
<circle cx="452.20" cy="320.50" r="1.25" fill="#000"/>
<circle cx="457.10" cy="319.30" r="1.25" fill="#000"/>
<circle cx="454.70" cy="327.60" r="1.25" fill="#000"/>
<circle cx="454.70" cy="331.00" r="1.25" fill="#000"/>
<line x1="382.30" y1="241.00" x2="382.30" y2="361.90" stroke="#000" stroke-width="1.3"/>
<line x1="381.70" y1="361.30" x2="467.80" y2="361.30" stroke="#000" stroke-width="1.3"/>
<line x1="377.20" y1="361.30" x2="382.30" y2="361.30" stroke="#000" stroke-width="1.2"/>
<text x="374.60" y="364.70" font-size="9.6" font-weight="bold" font-style="normal" text-anchor="end" fill="#000" >0</text>
<line x1="377.20" y1="337.32" x2="382.30" y2="337.32" stroke="#000" stroke-width="1.2"/>
<text x="374.60" y="340.72" font-size="9.6" font-weight="bold" font-style="normal" text-anchor="end" fill="#000" >1</text>
<line x1="377.20" y1="313.34" x2="382.30" y2="313.34" stroke="#000" stroke-width="1.2"/>
<text x="374.60" y="316.74" font-size="9.6" font-weight="bold" font-style="normal" text-anchor="end" fill="#000" >2</text>
<line x1="377.20" y1="289.36" x2="382.30" y2="289.36" stroke="#000" stroke-width="1.2"/>
<text x="374.60" y="292.76" font-size="9.6" font-weight="bold" font-style="normal" text-anchor="end" fill="#000" >3</text>
<line x1="377.20" y1="265.38" x2="382.30" y2="265.38" stroke="#000" stroke-width="1.2"/>
<text x="374.60" y="268.78" font-size="9.6" font-weight="bold" font-style="normal" text-anchor="end" fill="#000" >4</text>
<line x1="377.20" y1="241.40" x2="382.30" y2="241.40" stroke="#000" stroke-width="1.2"/>
<text x="374.60" y="244.80" font-size="9.6" font-weight="bold" font-style="normal" text-anchor="end" fill="#000" >5</text>
<text transform="translate(353.6,302.2) rotate(-90)" font-size="12.1" text-anchor="middle">FABP1 density</text>
<polyline points="395.40,297.30 395.40,247.00 415.30,247.00 415.30,254.20" fill="none" stroke="#000" stroke-width="1.2" stroke-linejoin="miter"/>
<polyline points="434.80,306.00 434.80,247.00 454.60,247.00 454.60,291.40" fill="none" stroke="#000" stroke-width="1.2" stroke-linejoin="miter"/>
<polyline points="415.30,232.00 415.30,224.40 454.60,224.40 454.60,232.00" fill="none" stroke="#000" stroke-width="1.2" stroke-linejoin="miter"/>
<path d="M395.32,236.85L395.32,241.75M393.34,237.86L397.31,240.74M393.34,240.74L397.31,237.86" stroke="#000" stroke-width="1.4" stroke-linecap="round" fill="none"/>
<path d="M401.88,236.85L401.88,241.75M399.89,237.86L403.86,240.74M399.89,240.74L403.86,237.86" stroke="#000" stroke-width="1.4" stroke-linecap="round" fill="none"/>
<path d="M408.43,236.85L408.43,241.75M406.44,237.86L410.41,240.74M406.44,240.74L410.41,237.86" stroke="#000" stroke-width="1.4" stroke-linecap="round" fill="none"/>
<path d="M414.97,236.85L414.97,241.75M412.99,237.86L416.96,240.74M412.99,240.74L416.96,237.86" stroke="#000" stroke-width="1.4" stroke-linecap="round" fill="none"/>
<path d="M441.80,236.95L441.80,241.85M439.82,237.96L443.78,240.84M439.82,240.84L443.78,237.96" stroke="#000" stroke-width="1.4" stroke-linecap="round" fill="none"/>
<path d="M448.00,236.95L448.00,241.85M446.02,237.96L449.98,240.84M446.02,240.84L449.98,237.96" stroke="#000" stroke-width="1.4" stroke-linecap="round" fill="none"/>
<path d="M431.90,214.55L431.90,219.45M429.92,215.56L433.88,218.44M429.92,218.44L433.88,215.56" stroke="#000" stroke-width="1.4" stroke-linecap="round" fill="none"/>
<path d="M438.10,214.55L438.10,219.45M436.12,215.56L440.08,218.44M436.12,218.44L440.08,215.56" stroke="#000" stroke-width="1.4" stroke-linecap="round" fill="none"/>
<text transform="translate(400.20,367.10) rotate(-90)" font-size="11.7" text-anchor="end">LFD</text>
<text transform="translate(419.70,367.10) rotate(-90)" font-size="11.7" text-anchor="end">HFD</text>
<text transform="translate(439.90,367.10) rotate(-90)" font-size="11.7" text-anchor="end">LFD</text>
<text transform="translate(459.50,367.10) rotate(-90)" font-size="11.7" text-anchor="end">HFD</text>
<line x1="391.40" y1="397.60" x2="418.90" y2="397.60" stroke="#000" stroke-width="1.2"/>
<line x1="431.70" y1="397.60" x2="458.80" y2="397.60" stroke="#000" stroke-width="1.2"/>
<text x="391.20" y="413.60" font-size="11.8" font-style="italic" text-anchor="start">Nts<tspan font-size="7.79" dy="-4.01">+/+</tspan></text>
<text x="433.80" y="413.60" font-size="11.8" font-style="italic" text-anchor="start">Nts<tspan font-size="7.79" dy="-4.01">-/-</tspan></text>
<rect x="570.30" y="301.30" width="13.40" height="59.70" fill="#f6e0e0" stroke="#e66a6a" stroke-width="1.0" />
<line x1="577.00" y1="276.82" x2="577.00" y2="325.18" stroke="#e25454" stroke-width="1.0"/>
<line x1="573.70" y1="276.82" x2="580.30" y2="276.82" stroke="#e25454" stroke-width="1.0"/>
<line x1="573.70" y1="325.18" x2="580.30" y2="325.18" stroke="#e25454" stroke-width="1.0"/>
<circle cx="574.20" cy="269.10" r="1.25" fill="#000"/>
<circle cx="579.50" cy="269.10" r="1.25" fill="#000"/>
<circle cx="577.00" cy="281.40" r="1.25" fill="#000"/>
<circle cx="577.00" cy="289.60" r="1.25" fill="#000"/>
<circle cx="577.00" cy="298.20" r="1.25" fill="#000"/>
<circle cx="577.00" cy="305.50" r="1.25" fill="#000"/>
<circle cx="574.20" cy="316.40" r="1.25" fill="#000"/>
<circle cx="579.50" cy="313.50" r="1.25" fill="#000"/>
<circle cx="577.00" cy="332.30" r="1.25" fill="#000"/>
<circle cx="577.00" cy="336.90" r="1.25" fill="#000"/>
<rect x="590.60" y="291.75" width="13.80" height="69.25" fill="#f26466" stroke="#e84242" stroke-width="1.0" />
<line x1="597.50" y1="269.66" x2="597.50" y2="313.84" stroke="#e84242" stroke-width="1.0"/>
<line x1="594.20" y1="269.66" x2="600.80" y2="269.66" stroke="#e84242" stroke-width="1.0"/>
<line x1="594.20" y1="313.84" x2="600.80" y2="313.84" stroke="#e84242" stroke-width="1.0"/>
<circle cx="594.30" cy="268.00" r="1.25" fill="#000"/>
<circle cx="600.00" cy="266.80" r="1.25" fill="#000"/>
<circle cx="597.50" cy="276.20" r="1.25" fill="#000"/>
<circle cx="597.50" cy="285.20" r="1.25" fill="#000"/>
<circle cx="597.50" cy="287.90" r="1.25" fill="#000"/>
<circle cx="597.50" cy="305.90" r="1.25" fill="#000"/>
<circle cx="594.30" cy="315.10" r="1.25" fill="#000"/>
<circle cx="598.70" cy="316.40" r="1.25" fill="#000"/>
<circle cx="597.50" cy="318.00" r="1.25" fill="#000"/>
<circle cx="597.50" cy="327.30" r="1.25" fill="#000"/>
<rect x="611.40" y="329.96" width="13.20" height="31.04" fill="#dcdcfa" stroke="#6e6ef0" stroke-width="1.0" />
<line x1="618.00" y1="315.63" x2="618.00" y2="344.28" stroke="#6e6ef0" stroke-width="1.0"/>
<line x1="614.70" y1="315.63" x2="621.30" y2="315.63" stroke="#6e6ef0" stroke-width="1.0"/>
<line x1="614.70" y1="344.28" x2="621.30" y2="344.28" stroke="#6e6ef0" stroke-width="1.0"/>
<circle cx="618.10" cy="303.00" r="1.25" fill="#000"/>
<circle cx="618.10" cy="316.20" r="1.25" fill="#000"/>
<circle cx="616.10" cy="320.30" r="1.25" fill="#000"/>
<circle cx="620.20" cy="321.10" r="1.25" fill="#000"/>
<circle cx="618.10" cy="326.80" r="1.25" fill="#000"/>
<circle cx="616.10" cy="342.00" r="1.25" fill="#000"/>
<circle cx="620.20" cy="341.60" r="1.25" fill="#000"/>
<circle cx="623.40" cy="341.20" r="1.25" fill="#000"/>
<circle cx="623.40" cy="342.90" r="1.25" fill="#000"/>
<circle cx="618.10" cy="345.90" r="1.25" fill="#000"/>
<rect x="632.00" y="305.48" width="13.40" height="55.52" fill="#6a6af6" stroke="#4a4af0" stroke-width="1.0" />
<line x1="638.70" y1="279.21" x2="638.70" y2="331.75" stroke="#4a4af0" stroke-width="1.0"/>
<line x1="635.40" y1="279.21" x2="642.00" y2="279.21" stroke="#4a4af0" stroke-width="1.0"/>
<line x1="635.40" y1="331.75" x2="642.00" y2="331.75" stroke="#4a4af0" stroke-width="1.0"/>
<circle cx="638.30" cy="275.20" r="1.25" fill="#000"/>
<circle cx="635.80" cy="279.40" r="1.25" fill="#000"/>
<circle cx="641.00" cy="280.00" r="1.25" fill="#000"/>
<circle cx="635.80" cy="281.60" r="1.25" fill="#000"/>
<circle cx="638.30" cy="288.20" r="1.25" fill="#000"/>
<circle cx="635.50" cy="326.00" r="1.25" fill="#000"/>
<circle cx="641.20" cy="327.00" r="1.25" fill="#000"/>
<circle cx="638.30" cy="329.30" r="1.25" fill="#000"/>
<circle cx="635.50" cy="334.20" r="1.25" fill="#000"/>
<circle cx="641.20" cy="333.10" r="1.25" fill="#000"/>
<line x1="563.00" y1="241.00" x2="563.00" y2="361.60" stroke="#000" stroke-width="1.3"/>
<line x1="562.40" y1="361.00" x2="652.00" y2="361.00" stroke="#000" stroke-width="1.3"/>
<line x1="607.10" y1="361.00" x2="607.10" y2="365.50" stroke="#000" stroke-width="1.2"/>
<line x1="557.60" y1="361.00" x2="563.00" y2="361.00" stroke="#000" stroke-width="1.2"/>
<text x="555.00" y="364.40" font-size="9.6" font-weight="bold" font-style="normal" text-anchor="end" fill="#000" >0.0</text>
<line x1="557.60" y1="331.15" x2="563.00" y2="331.15" stroke="#000" stroke-width="1.2"/>
<text x="555.00" y="334.55" font-size="9.6" font-weight="bold" font-style="normal" text-anchor="end" fill="#000" >0.5</text>
<line x1="557.60" y1="301.30" x2="563.00" y2="301.30" stroke="#000" stroke-width="1.2"/>
<text x="555.00" y="304.70" font-size="9.6" font-weight="bold" font-style="normal" text-anchor="end" fill="#000" >1.0</text>
<line x1="557.60" y1="271.45" x2="563.00" y2="271.45" stroke="#000" stroke-width="1.2"/>
<text x="555.00" y="274.85" font-size="9.6" font-weight="bold" font-style="normal" text-anchor="end" fill="#000" >1.5</text>
<line x1="557.60" y1="241.60" x2="563.00" y2="241.60" stroke="#000" stroke-width="1.2"/>
<text x="555.00" y="245.00" font-size="9.6" font-weight="bold" font-style="normal" text-anchor="end" fill="#000" >2.0</text>
<text transform="translate(528.6,302.1) rotate(-90)" font-size="12.1" text-anchor="middle">FABP2 density</text>
<polyline points="576.60,261.80 576.60,252.60 618.20,252.60 618.20,296.00" fill="none" stroke="#000" stroke-width="1.2" stroke-linejoin="miter"/>
<path d="M597.50,241.80L597.50,247.60M595.15,243.00L599.85,246.40M595.15,246.40L599.85,243.00" stroke="#000" stroke-width="1.5" stroke-linecap="round" fill="none"/>
<text transform="translate(583.70,367.10) rotate(-90)" font-size="11.7" text-anchor="end">LFD</text>
<text transform="translate(604.00,367.10) rotate(-90)" font-size="11.7" text-anchor="end">HFD</text>
<text transform="translate(623.40,367.10) rotate(-90)" font-size="11.7" text-anchor="end">LFD</text>
<text transform="translate(643.20,367.10) rotate(-90)" font-size="11.7" text-anchor="end">HFD</text>
<line x1="575.40" y1="396.60" x2="602.20" y2="396.60" stroke="#000" stroke-width="1.2"/>
<line x1="615.30" y1="396.60" x2="642.60" y2="396.60" stroke="#000" stroke-width="1.2"/>
<text x="574.70" y="412.60" font-size="11.8" font-style="italic" text-anchor="start">Nts<tspan font-size="7.79" dy="-4.01">+/+</tspan></text>
<text x="617.40" y="412.60" font-size="11.8" font-style="italic" text-anchor="start">Nts<tspan font-size="7.79" dy="-4.01">-/-</tspan></text>
<text x="7.00" y="476.80" font-size="14.3" font-weight="bold" font-style="normal" text-anchor="start" fill="#000" >d</text>
<text x="44.90" y="508.30" font-size="12.0" font-weight="normal" font-style="normal" text-anchor="middle" fill="#000" >4-mo-old</text>
<text x="107.10" y="508.30" font-size="12.0" font-weight="normal" font-style="normal" text-anchor="middle" fill="#000" >21-mo-old</text>
<text x="48.90" y="525.90" font-size="12.0" font-weight="normal" font-style="normal" text-anchor="middle" fill="#000" >Young</text>
<text x="104.00" y="525.90" font-size="12.0" font-weight="normal" font-style="normal" text-anchor="middle" fill="#000" >Aged</text>
<line x1="31.00" y1="531.90" x2="69.60" y2="531.90" stroke="#000" stroke-width="1.3"/>
<line x1="85.40" y1="531.90" x2="124.00" y2="531.90" stroke="#000" stroke-width="1.3"/>
<text x="25.30" y="548.10" font-size="11.9" font-style="italic" text-anchor="start">Nts<tspan font-size="7.85" dy="-4.05">+/+</tspan></text>
<text x="56.30" y="548.10" font-size="11.9" font-style="italic" text-anchor="start">Nts<tspan font-size="7.85" dy="-4.05">-/-</tspan></text>
<text x="83.40" y="548.10" font-size="11.9" font-style="italic" text-anchor="start">Nts<tspan font-size="7.85" dy="-4.05">+/+</tspan></text>
<text x="113.60" y="548.10" font-size="11.9" font-style="italic" text-anchor="start">Nts<tspan font-size="7.85" dy="-4.05">-/-</tspan></text>
<rect x="23.20" y="554.90" width="109.60" height="25.70" fill="#bebebe" stroke="none" stroke-width="0" />
<rect x="27.00" y="563.60" width="20.90" height="8.70" rx="3.95" fill="rgb(16,16,16)" filter="url(#bl2)"/>
<rect x="55.40" y="565.60" width="18.40" height="4.60" rx="2.09" fill="rgb(134,134,134)" filter="url(#bl2)"/>
<rect x="82.60" y="565.00" width="18.60" height="6.30" rx="2.86" fill="rgb(44,44,44)" filter="url(#bl2)"/>
<rect x="108.20" y="563.40" width="19.80" height="8.60" rx="3.91" fill="rgb(16,16,16)" filter="url(#bl2)"/>
<rect x="23.20" y="585.00" width="109.60" height="23.70" fill="#bebebe" stroke="none" stroke-width="0" />
<rect x="27.00" y="591.9" width="21.90" height="8.9" rx="3.8" fill="#1c1c1c" filter="url(#bl2)"/>
<rect x="54.10" y="591.9" width="21.90" height="8.9" rx="3.8" fill="#1c1c1c" filter="url(#bl2)"/>
<rect x="81.30" y="591.9" width="21.00" height="8.9" rx="3.8" fill="#1c1c1c" filter="url(#bl2)"/>
<rect x="107.60" y="591.9" width="21.90" height="8.9" rx="3.8" fill="#1c1c1c" filter="url(#bl2)"/>
<text x="15.20" y="564.08" font-size="12.2" font-weight="normal" font-style="normal" text-anchor="end" fill="#000" >15</text>
<line x1="17.90" y1="560.30" x2="22.80" y2="560.30" stroke="#000" stroke-width="1.0"/>
<text x="15.20" y="591.18" font-size="12.2" font-weight="normal" font-style="normal" text-anchor="end" fill="#000" >50</text>
<line x1="17.90" y1="587.40" x2="22.80" y2="587.40" stroke="#000" stroke-width="1.0"/>
<text x="137.20" y="572.00" font-size="12.1" font-weight="normal" font-style="normal" text-anchor="start" fill="#000" >FABP1</text>
<text x="136.80" y="599.50" font-size="12.1" font-weight="normal" font-style="normal" text-anchor="start" fill="#000" >β-actin</text>
<rect x="254.30" y="557.00" width="12.50" height="59.40" fill="#f8dcdc" stroke="#e66a6a" stroke-width="1.0" />
<line x1="260.55" y1="537.99" x2="260.55" y2="575.41" stroke="#e66a6a" stroke-width="1.0"/>
<line x1="257.25" y1="537.99" x2="263.85" y2="537.99" stroke="#e66a6a" stroke-width="1.0"/>
<line x1="257.25" y1="575.41" x2="263.85" y2="575.41" stroke="#e66a6a" stroke-width="1.0"/>
<circle cx="260.40" cy="540.20" r="1.25" fill="#000"/>
<circle cx="260.40" cy="544.60" r="1.25" fill="#000"/>
<circle cx="260.40" cy="563.20" r="1.25" fill="#000"/>
<circle cx="260.40" cy="580.40" r="1.25" fill="#000"/>
<rect x="272.90" y="604.52" width="12.10" height="11.88" fill="#f06868" stroke="#e44444" stroke-width="1.0" />
<line x1="278.95" y1="597.39" x2="278.95" y2="611.65" stroke="#e44444" stroke-width="1.0"/>
<line x1="275.65" y1="597.39" x2="282.25" y2="597.39" stroke="#e44444" stroke-width="1.0"/>
<line x1="275.65" y1="611.65" x2="282.25" y2="611.65" stroke="#e44444" stroke-width="1.0"/>
<circle cx="279.00" cy="594.80" r="1.25" fill="#000"/>
<circle cx="276.30" cy="605.50" r="1.25" fill="#000"/>
<circle cx="281.50" cy="605.50" r="1.25" fill="#000"/>
<circle cx="279.00" cy="610.30" r="1.25" fill="#000"/>
<rect x="291.10" y="588.48" width="12.40" height="27.92" fill="#dce4fc" stroke="#7a8af5" stroke-width="1.0" />
<line x1="297.30" y1="567.10" x2="297.30" y2="609.27" stroke="#7a8af5" stroke-width="1.0"/>
<line x1="294.00" y1="567.10" x2="300.60" y2="567.10" stroke="#7a8af5" stroke-width="1.0"/>
<line x1="294.00" y1="609.27" x2="300.60" y2="609.27" stroke="#7a8af5" stroke-width="1.0"/>
<circle cx="297.20" cy="557.40" r="1.25" fill="#000"/>
<circle cx="297.20" cy="592.50" r="1.25" fill="#000"/>
<circle cx="297.20" cy="599.20" r="1.25" fill="#000"/>
<circle cx="297.20" cy="604.60" r="1.25" fill="#000"/>
<rect x="309.30" y="558.78" width="12.40" height="57.62" fill="#6a6af5" stroke="#4646f2" stroke-width="1.0" />
<line x1="315.50" y1="530.86" x2="315.50" y2="587.29" stroke="#4646f2" stroke-width="1.0"/>
<line x1="312.20" y1="530.86" x2="318.80" y2="530.86" stroke="#4646f2" stroke-width="1.0"/>
<line x1="312.20" y1="587.29" x2="318.80" y2="587.29" stroke="#4646f2" stroke-width="1.0"/>
<circle cx="312.70" cy="537.50" r="1.25" fill="#000"/>
<circle cx="317.90" cy="536.60" r="1.25" fill="#000"/>
<circle cx="315.40" cy="566.00" r="1.25" fill="#000"/>
<circle cx="315.40" cy="596.30" r="1.25" fill="#000"/>
<line x1="248.60" y1="497.00" x2="248.60" y2="617.00" stroke="#000" stroke-width="1.3"/>
<line x1="248.00" y1="616.40" x2="327.50" y2="616.40" stroke="#000" stroke-width="1.3"/>
<line x1="243.60" y1="616.40" x2="248.60" y2="616.40" stroke="#000" stroke-width="1.2"/>
<text x="241.00" y="619.70" font-size="9.0" font-weight="bold" font-style="normal" text-anchor="end" fill="#000" >0.0</text>
<line x1="243.60" y1="586.70" x2="248.60" y2="586.70" stroke="#000" stroke-width="1.2"/>
<text x="241.00" y="590.00" font-size="9.0" font-weight="bold" font-style="normal" text-anchor="end" fill="#000" >0.5</text>
<line x1="243.60" y1="557.00" x2="248.60" y2="557.00" stroke="#000" stroke-width="1.2"/>
<text x="241.00" y="560.30" font-size="9.0" font-weight="bold" font-style="normal" text-anchor="end" fill="#000" >1.0</text>
<line x1="243.60" y1="527.30" x2="248.60" y2="527.30" stroke="#000" stroke-width="1.2"/>
<text x="241.00" y="530.60" font-size="9.0" font-weight="bold" font-style="normal" text-anchor="end" fill="#000" >1.5</text>
<line x1="243.60" y1="497.60" x2="248.60" y2="497.60" stroke="#000" stroke-width="1.2"/>
<text x="241.00" y="500.90" font-size="9.0" font-weight="bold" font-style="normal" text-anchor="end" fill="#000" >2.0</text>
<text transform="translate(218.7,559.4) rotate(-90)" font-size="12.3" text-anchor="middle">FABP1 density</text>
<polyline points="260.50,507.10 260.50,491.80 278.90,491.80 278.90,581.00" fill="none" stroke="#000" stroke-width="1.2" stroke-linejoin="miter"/>
<polyline points="278.90,473.60 278.90,466.00 315.30,466.00 315.30,513.70" fill="none" stroke="#000" stroke-width="1.2" stroke-linejoin="miter"/>
<path d="M269.60,481.70L269.60,486.90M267.50,482.77L271.70,485.83M267.50,485.83L271.70,482.77" stroke="#000" stroke-width="1.45" stroke-linecap="round" fill="none"/>
<path d="M297.10,455.60L297.10,460.80M295.00,456.67L299.20,459.73M295.00,459.73L299.20,456.67" stroke="#000" stroke-width="1.45" stroke-linecap="round" fill="none"/>
<text transform="translate(266.40,626.60) rotate(-45)" font-size="12.0" font-style="italic" text-anchor="end">Nts<tspan font-size="8.0" dy="-4.8">+/+</tspan></text>
<text transform="translate(285.30,626.60) rotate(-45)" font-size="12.0" font-style="italic" text-anchor="end">Nts<tspan font-size="8.0" dy="-4.8">-/-</tspan></text>
<text transform="translate(304.90,626.60) rotate(-45)" font-size="12.0" font-style="italic" text-anchor="end">Nts<tspan font-size="8.0" dy="-4.8">+/+</tspan></text>
<text transform="translate(324.70,626.60) rotate(-45)" font-size="12.0" font-style="italic" text-anchor="end">Nts<tspan font-size="8.0" dy="-4.8">-/-</tspan></text>
<line x1="247.30" y1="656.60" x2="279.80" y2="656.60" stroke="#000" stroke-width="1.2"/>
<line x1="290.20" y1="656.60" x2="320.70" y2="656.60" stroke="#000" stroke-width="1.2"/>
<text x="263.70" y="673.40" font-size="11.7" font-weight="normal" font-style="normal" text-anchor="middle" fill="#000" >Young</text>
<text x="303.60" y="673.40" font-size="11.7" font-weight="normal" font-style="normal" text-anchor="middle" fill="#000" >Aged</text>
<text x="377.60" y="476.80" font-size="14.3" font-weight="bold" font-style="normal" text-anchor="start" fill="#000" >e</text>
<text x="404.80" y="510.40" font-size="11.9" font-style="italic" text-anchor="start">Ntsr1<tspan font-size="7.85" dy="-4.05">+/+</tspan></text>
<text x="453.10" y="510.40" font-size="11.9" font-style="italic" text-anchor="start">Ntsr1<tspan font-size="7.85" dy="-4.05">-/-</tspan></text>
<line x1="405.00" y1="519.20" x2="440.40" y2="519.20" stroke="#000" stroke-width="1.3"/>
<line x1="451.40" y1="519.20" x2="486.80" y2="519.20" stroke="#000" stroke-width="1.3"/>
<text x="414.50" y="530.70" font-size="11.5" font-weight="normal" font-style="normal" text-anchor="middle" fill="#000" >-</text>
<text x="435.70" y="530.70" font-size="11.5" font-weight="normal" font-style="normal" text-anchor="middle" fill="#000" >+</text>
<text x="458.00" y="530.70" font-size="11.5" font-weight="normal" font-style="normal" text-anchor="middle" fill="#000" >-</text>
<text x="478.50" y="530.70" font-size="11.5" font-weight="normal" font-style="normal" text-anchor="middle" fill="#000" >+</text>
<text x="489.80" y="531.30" font-size="12.2" font-weight="normal" font-style="normal" text-anchor="start" fill="#000" >NT</text>
<rect x="402.90" y="532.90" width="85.40" height="24.70" fill="#ebebeb" stroke="none" stroke-width="0" />
<path d="M407.4,544.3 Q413,542.9 421.2,544.5 Q413,546.0 407.4,544.3 Z" fill="#606060" stroke="#606060" stroke-width="2.0" stroke-linejoin="round" filter="url(#bl2)"/>
<rect x="429.40" y="542.90" width="13.50" height="3.80" rx="1.92" fill="rgb(20,20,20)" filter="url(#bl2)"/>
<rect x="449.80" y="543.60" width="13.40" height="2.40" rx="1.33" fill="rgb(156,156,156)" filter="url(#bl2)"/>
<rect x="471.50" y="543.30" width="13.40" height="2.90" rx="1.54" fill="rgb(58,58,58)" filter="url(#bl2)"/>
<rect x="402.90" y="560.90" width="85.40" height="22.30" fill="#ebebeb" stroke="none" stroke-width="0" />
<rect x="406.40" y="569.2" width="17.40" height="5.8" rx="2.6" fill="#101010" filter="url(#bl2)"/>
<rect x="427.40" y="569.2" width="16.80" height="5.8" rx="2.6" fill="#101010" filter="url(#bl2)"/>
<rect x="447.80" y="569.2" width="16.70" height="5.8" rx="2.6" fill="#101010" filter="url(#bl2)"/>
<rect x="468.20" y="569.2" width="16.70" height="5.8" rx="2.6" fill="#101010" filter="url(#bl2)"/>
<text x="396.90" y="537.82" font-size="12.0" font-weight="normal" font-style="normal" text-anchor="end" fill="#000" >15</text>
<line x1="400.00" y1="534.10" x2="402.80" y2="534.10" stroke="#000" stroke-width="1.0"/>
<text x="396.90" y="568.42" font-size="12.0" font-weight="normal" font-style="normal" text-anchor="end" fill="#000" >50</text>
<line x1="400.00" y1="564.70" x2="402.80" y2="564.70" stroke="#000" stroke-width="1.0"/>
<text x="492.80" y="549.80" font-size="12.1" font-weight="normal" font-style="normal" text-anchor="start" fill="#000" >FABP1</text>
<text x="492.80" y="576.00" font-size="12.1" font-weight="normal" font-style="normal" text-anchor="start" fill="#000" >β-actin</text>
<rect x="605.50" y="556.80" width="12.10" height="39.50" fill="#f8dcd8" stroke="#e87070" stroke-width="1.0" />
<line x1="611.55" y1="542.58" x2="611.55" y2="571.41" stroke="#e87070" stroke-width="1.0"/>
<line x1="608.25" y1="542.58" x2="614.85" y2="542.58" stroke="#e87070" stroke-width="1.0"/>
<line x1="608.25" y1="571.41" x2="614.85" y2="571.41" stroke="#e87070" stroke-width="1.0"/>
<circle cx="611.40" cy="539.40" r="1.25" fill="#000"/>
<circle cx="611.40" cy="544.60" r="1.25" fill="#000"/>
<circle cx="611.40" cy="551.70" r="1.25" fill="#000"/>
<circle cx="611.40" cy="562.80" r="1.25" fill="#000"/>
<circle cx="609.00" cy="572.80" r="1.25" fill="#000"/>
<circle cx="613.70" cy="572.00" r="1.25" fill="#000"/>
<rect x="624.30" y="535.87" width="12.40" height="60.43" fill="#f06266" stroke="#e44444" stroke-width="1.0" />
<line x1="630.50" y1="517.30" x2="630.50" y2="553.64" stroke="#e44444" stroke-width="1.0"/>
<line x1="627.20" y1="517.30" x2="633.80" y2="517.30" stroke="#e44444" stroke-width="1.0"/>
<line x1="627.20" y1="553.64" x2="633.80" y2="553.64" stroke="#e44444" stroke-width="1.0"/>
<circle cx="630.40" cy="509.50" r="1.25" fill="#000"/>
<circle cx="630.40" cy="527.40" r="1.25" fill="#000"/>
<circle cx="630.40" cy="532.10" r="1.25" fill="#000"/>
<circle cx="630.40" cy="536.40" r="1.25" fill="#000"/>
<circle cx="630.40" cy="549.00" r="1.25" fill="#000"/>
<circle cx="630.40" cy="562.80" r="1.25" fill="#000"/>
<rect x="643.40" y="586.42" width="12.10" height="9.88" fill="#dcdcfa" stroke="#7777f2" stroke-width="1.0" />
<line x1="649.45" y1="573.39" x2="649.45" y2="598.27" stroke="#7777f2" stroke-width="1.0"/>
<line x1="646.15" y1="573.39" x2="652.75" y2="573.39" stroke="#7777f2" stroke-width="1.0"/>
<line x1="646.15" y1="598.27" x2="652.75" y2="598.27" stroke="#7777f2" stroke-width="1.0"/>
<circle cx="649.60" cy="565.30" r="1.25" fill="#000"/>
<circle cx="649.60" cy="578.10" r="1.25" fill="#000"/>
<circle cx="649.60" cy="585.80" r="1.25" fill="#000"/>
<circle cx="644.40" cy="595.40" r="1.25" fill="#000"/>
<circle cx="649.60" cy="595.00" r="1.25" fill="#000"/>
<circle cx="654.30" cy="595.40" r="1.25" fill="#000"/>
<rect x="662.60" y="563.51" width="12.10" height="32.78" fill="#6a6af5" stroke="#4646f2" stroke-width="1.0" />
<line x1="668.65" y1="543.76" x2="668.65" y2="582.47" stroke="#4646f2" stroke-width="1.0"/>
<line x1="665.35" y1="543.76" x2="671.95" y2="543.76" stroke="#4646f2" stroke-width="1.0"/>
<line x1="665.35" y1="582.47" x2="671.95" y2="582.47" stroke="#4646f2" stroke-width="1.0"/>
<circle cx="667.80" cy="535.60" r="1.25" fill="#000"/>
<circle cx="667.80" cy="552.30" r="1.25" fill="#000"/>
<circle cx="667.80" cy="556.10" r="1.25" fill="#000"/>
<circle cx="667.80" cy="569.50" r="1.25" fill="#000"/>
<circle cx="667.80" cy="578.70" r="1.25" fill="#000"/>
<circle cx="667.80" cy="588.10" r="1.25" fill="#000"/>
<line x1="599.00" y1="498.00" x2="599.00" y2="616.60" stroke="#000" stroke-width="1.3"/>
<line x1="598.40" y1="596.30" x2="680.80" y2="596.30" stroke="#000" stroke-width="1.3"/>
<line x1="594.20" y1="616.00" x2="680.80" y2="616.00" stroke="#000" stroke-width="1.3"/>
<line x1="593.80" y1="616.00" x2="599.00" y2="616.00" stroke="#000" stroke-width="1.2"/>
<text x="591.40" y="619.20" font-size="8.8" font-weight="bold" font-style="normal" text-anchor="end" fill="#000" >-0.5</text>
<line x1="593.80" y1="596.38" x2="599.00" y2="596.38" stroke="#000" stroke-width="1.2"/>
<text x="591.40" y="599.58" font-size="8.8" font-weight="bold" font-style="normal" text-anchor="end" fill="#000" >0.0</text>
<line x1="593.80" y1="576.76" x2="599.00" y2="576.76" stroke="#000" stroke-width="1.2"/>
<text x="591.40" y="579.96" font-size="8.8" font-weight="bold" font-style="normal" text-anchor="end" fill="#000" >0.5</text>
<line x1="593.80" y1="557.14" x2="599.00" y2="557.14" stroke="#000" stroke-width="1.2"/>
<text x="591.40" y="560.34" font-size="8.8" font-weight="bold" font-style="normal" text-anchor="end" fill="#000" >1.0</text>
<line x1="593.80" y1="537.52" x2="599.00" y2="537.52" stroke="#000" stroke-width="1.2"/>
<text x="591.40" y="540.72" font-size="8.8" font-weight="bold" font-style="normal" text-anchor="end" fill="#000" >1.5</text>
<line x1="593.80" y1="517.90" x2="599.00" y2="517.90" stroke="#000" stroke-width="1.2"/>
<text x="591.40" y="521.10" font-size="8.8" font-weight="bold" font-style="normal" text-anchor="end" fill="#000" >2.0</text>
<line x1="593.80" y1="498.28" x2="599.00" y2="498.28" stroke="#000" stroke-width="1.2"/>
<text x="591.40" y="501.48" font-size="8.8" font-weight="bold" font-style="normal" text-anchor="end" fill="#000" >2.5</text>
<text transform="translate(561.5,556.0) rotate(-90)" font-size="12.0" text-anchor="middle">FABP1 density</text>
<polyline points="611.40,529.30 611.40,496.30 630.40,496.30 630.40,498.60" fill="none" stroke="#000" stroke-width="1.2" stroke-linejoin="miter"/>
<polyline points="649.60,556.10 649.60,523.00 667.80,523.00 667.80,526.40" fill="none" stroke="#000" stroke-width="1.2" stroke-linejoin="miter"/>
<polyline points="610.60,482.00 610.60,480.00 649.60,480.00 649.60,498.60" fill="none" stroke="#000" stroke-width="1.2" stroke-linejoin="miter"/>
<polyline points="629.50,465.00 629.50,461.80 667.80,461.80 667.80,497.40" fill="none" stroke="#000" stroke-width="1.2" stroke-linejoin="miter"/>
<text x="621.00" y="489.30" font-size="9.9" font-weight="normal" font-style="normal" text-anchor="middle" fill="#000" >p=0.05</text>
<text x="659.00" y="516.60" font-size="9.9" font-weight="normal" font-style="normal" text-anchor="middle" fill="#000" >p=0.05</text>
<path d="M629.60,468.90L629.60,474.90M627.17,470.14L632.03,473.66M627.17,473.66L632.03,470.14" stroke="#000" stroke-width="1.6" stroke-linecap="round" fill="none"/>
<path d="M648.50,450.50L648.50,456.50M646.07,451.74L650.93,455.26M646.07,455.26L650.93,451.74" stroke="#000" stroke-width="1.6" stroke-linecap="round" fill="none"/>
<text x="565.70" y="635.00" font-size="12.0" font-weight="normal" font-style="normal" text-anchor="start" fill="#000" >NTS</text>
<text x="610.10" y="634.00" font-size="11.5" font-weight="normal" font-style="normal" text-anchor="middle" fill="#000" >-</text>
<text x="630.20" y="634.00" font-size="11.5" font-weight="normal" font-style="normal" text-anchor="middle" fill="#000" >+</text>
<text x="649.60" y="634.00" font-size="11.5" font-weight="normal" font-style="normal" text-anchor="middle" fill="#000" >-</text>
<text x="668.80" y="634.00" font-size="11.5" font-weight="normal" font-style="normal" text-anchor="middle" fill="#000" >+</text>
<line x1="602.20" y1="638.40" x2="637.80" y2="638.40" stroke="#000" stroke-width="1.2"/>
<line x1="643.40" y1="638.40" x2="678.50" y2="638.40" stroke="#000" stroke-width="1.2"/>
<text x="599.70" y="656.50" font-size="11.6" font-style="italic" text-anchor="start">Ntsr1<tspan font-size="7.66" dy="-3.94">+/+</tspan></text>
<text x="645.50" y="656.50" font-size="11.6" font-style="italic" text-anchor="start">Ntsr1<tspan font-size="7.66" dy="-3.94">-/-</tspan></text>
</svg>
</body></html>
